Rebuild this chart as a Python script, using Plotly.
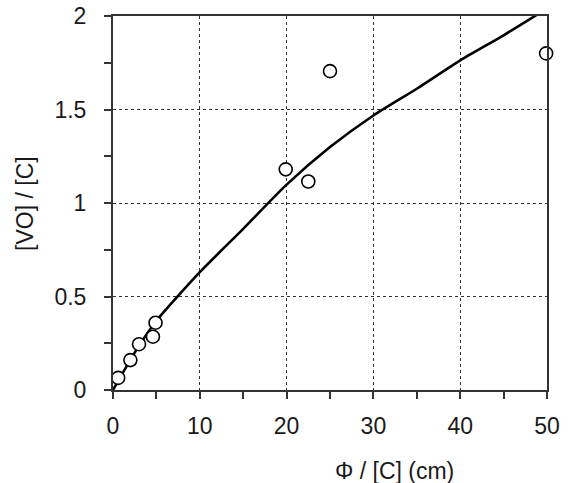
import plotly.graph_objects as go

# Measured data points
phi_pts = [0.6, 2.0, 3.0, 4.6, 4.9, 19.9, 22.5, 25.0, 49.9]
vo_pts = [0.065, 0.16, 0.245, 0.285, 0.36, 1.18, 1.115, 1.705, 1.80]

# Fitted curve
phi_fit = [0, 2.5, 5, 10, 15, 20, 25, 30, 35, 40, 45, 50]
vo_fit = [0.0, 0.2, 0.37, 0.63, 0.862, 1.098, 1.299, 1.468, 1.611, 1.763, 1.897, 2.04]

x_ticks = [0, 10, 20, 30, 40, 50]
y_ticks = [0, 0.5, 1, 1.5, 2]
y_tick_text = ["0", "0.5", "1", "1.5", "2"]

fig = go.Figure()
fig.add_trace(go.Scatter(x=phi_fit, y=vo_fit, mode="lines",
                         line=dict(color="black", width=2.6, shape="spline", smoothing=0.6),
                         showlegend=False, hoverinfo="skip"))
fig.add_trace(go.Scatter(x=phi_pts, y=vo_pts, mode="markers",
                         marker=dict(size=13, color="white",
                                     line=dict(color="black", width=1.6)),
                         cliponaxis=False, showlegend=False))

font = dict(family="Liberation Sans, Arial, sans-serif", size=23, color="#1a1a1a")

fig.update_xaxes(range=[0, 50], tickvals=x_ticks, ticks="outside", ticklen=7,
                 tickwidth=1.5, tickcolor="#333", ticklabelstandoff=7, automargin=False,
                 minor=dict(dtick=5, tick0=0, ticks="outside", ticklen=7, tickwidth=1.5,
                            tickcolor="#333", showgrid=False),
                 showline=True, linecolor="#333", linewidth=2, mirror=True,
                 showgrid=True, gridcolor="#333", gridwidth=1, griddash="dot",
                 zeroline=False, tickfont=font)
fig.update_yaxes(range=[0, 2], tickvals=y_ticks, ticktext=y_tick_text, ticks="outside",
                 ticklen=7, tickwidth=1.5, tickcolor="#333", ticklabelstandoff=13,
                 automargin=False,
                 minor=dict(dtick=0.25, tick0=0, ticks="outside", ticklen=7, tickwidth=1.5,
                            tickcolor="#333", showgrid=False),
                 showline=True, linecolor="#333", linewidth=2, mirror=True,
                 showgrid=True, gridcolor="#333", gridwidth=1, griddash="dot",
                 zeroline=False, tickfont=font)

fig.add_annotation(text="[VO] / [C]", xref="paper", yref="paper", x=-0.203, y=0.5,
                   xanchor="center", yanchor="middle", textangle=-90,
                   showarrow=False, font=font)
fig.add_annotation(text="Φ / [C] (cm)", xref="paper", yref="paper", x=0.648, y=-0.217,
                   xanchor="center", yanchor="middle", showarrow=False, font=font)

fig.update_layout(width=571, height=483, margin=dict(l=113, r=24, t=16, b=93),
                  plot_bgcolor="white", paper_bgcolor="white")

fig.write_html("out.html", config={"displayModeBar": False},
               post_script="document.body.style.margin='0';document.body.style.overflow='hidden';")
